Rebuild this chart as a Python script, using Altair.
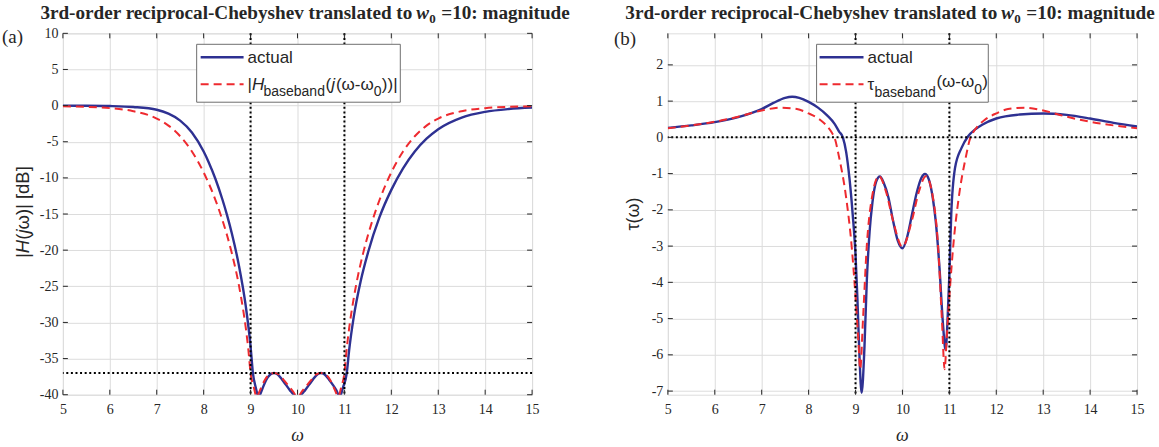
import altair as alt
import pandas as pd

W, H = 470, 362

# ---------------- magnitude response (dB) ----------------
w_mag_actual = [5.0, 5.5, 6.0, 6.5, 7.0, 7.25, 7.5, 7.75, 8.0, 8.1, 8.25, 8.4, 8.5, 8.6,
                8.75, 8.9, 9.0, 9.05, 9.11, 9.17, 9.25, 9.33, 9.42, 9.5, 9.58, 9.67,
                9.75, 9.84, 10.0, 10.16, 10.25, 10.33, 10.42, 10.5, 10.58, 10.67, 10.75,
                10.83, 10.9, 10.97, 11.05, 11.1, 11.2, 11.35, 11.5, 11.75, 12.0, 12.25,
                12.5, 12.75, 13.0, 13.5, 14.0, 14.5, 15.0]
mag_actual = [-0.01, -0.02, -0.06, -0.19, -0.57, -1.12, -2.07, -3.72, -6.35, -7.72, -10.12,
              -12.99, -15.18, -17.66, -22.07, -27.85, -33.3, -37.0, -39.0, -40.3, -39.2,
              -38.0, -37.2, -37.0, -37.2, -37.9, -38.6, -39.4, -40.3, -39.4, -38.6, -37.9,
              -37.2, -37.0, -37.2, -37.9, -38.6, -39.4, -40.3, -39.0, -37.0, -33.9, -29.2,
              -24.2, -20.4, -15.4, -11.66, -8.68, -6.35, -4.58, -3.26, -1.65, -0.86,
              -0.47, -0.27]

w_mag_base = [5.0, 5.5, 6.0, 6.5, 7.0, 7.25, 7.5, 7.75, 8.0, 8.25, 8.4, 8.5, 8.6, 8.75,
              8.8, 8.9, 8.95, 9.0, 9.07, 9.13, 9.2, 9.3, 9.4, 9.5, 9.6, 9.7, 9.8, 9.9,
              10.0, 10.1, 10.2, 10.3, 10.4, 10.5, 10.6, 10.7, 10.8, 10.87, 10.93, 11.0,
              11.05, 11.1, 11.2, 11.25, 11.4, 11.5, 11.6, 11.75, 12.0, 12.25, 12.5,
              12.75, 13.0, 13.5, 14.0, 14.5, 15.0]
mag_base = [-0.09, -0.17, -0.35, -0.77, -1.79, -2.77, -4.24, -6.35, -9.24, -13.03, -15.84,
            -17.97, -20.41, -24.8, -26.6, -30.87, -33.6, -37.0, -39.0, -40.3, -39.4,
            -38.0, -37.2, -37.0, -37.2, -37.9, -38.7, -39.5, -40.3, -39.5, -38.7, -37.9,
            -37.2, -37.0, -37.2, -38.0, -39.4, -40.3, -39.0, -37.0, -33.6, -30.87, -26.6,
            -24.8, -20.41, -17.97, -15.84, -13.03, -9.24, -6.35, -4.24, -2.77, -1.79,
            -0.77, -0.35, -0.17, -0.09]

# ---------------- group delay ----------------
w_tau_actual = [5.0, 5.5, 6.0, 6.5, 7.0, 7.25, 7.5, 7.65, 7.8, 8.0, 8.2, 8.4, 8.55, 8.65,
                8.73, 8.8, 8.87, 8.94, 9.0, 9.04, 9.08, 9.13, 9.19, 9.24, 9.3, 9.36, 9.44,
                9.52, 9.6, 9.7, 9.8, 9.9, 10.0, 10.1, 10.2, 10.3, 10.4, 10.48, 10.56,
                10.65, 10.71, 10.79, 10.86, 10.92, 10.96, 11.0, 11.04, 11.12, 11.26, 11.4,
                11.55, 11.7, 12.0, 12.5, 13.0, 13.5, 14.0, 14.5, 15.0]
tau_actual = [0.26, 0.33, 0.42, 0.56, 0.78, 0.95, 1.09, 1.12, 1.09, 0.98, 0.82, 0.60, 0.38,
              0.16, 0.0, -0.4, -1.12, -2.13, -3.24, -4.44, -5.9, -7.05, -5.8, -3.97, -2.6,
              -1.8, -1.22, -1.08, -1.25, -1.65, -2.3, -2.85, -3.06, -2.75, -2.15, -1.55,
              -1.13, -1.01, -1.15, -1.7, -2.32, -3.61, -5.08, -5.87, -5.08, -3.79, -2.13,
              -0.85, -0.29, 0.03, 0.22, 0.35, 0.52, 0.63, 0.66, 0.62, 0.52, 0.40, 0.30]

w_tau_base = [5.0, 5.5, 6.0, 6.5, 7.0, 7.4, 7.75, 8.0, 8.25, 8.4, 8.5, 8.55, 8.65, 8.8,
              8.92, 9.0, 9.06, 9.1, 9.16, 9.24, 9.35, 9.5, 9.65, 9.8, 10.0, 10.2, 10.35,
              10.5, 10.65, 10.76, 10.84, 10.9, 10.94, 11.0, 11.08, 11.2, 11.35, 11.45,
              11.5, 11.6, 11.75, 12.0, 12.25, 12.6, 13.0, 13.5, 14.0, 14.5, 15.0]
tau_base = [0.25, 0.33, 0.43, 0.57, 0.74, 0.82, 0.78, 0.66, 0.48, 0.30, 0.12, 0.0, -0.55,
            -1.66, -3.04, -4.4, -5.6, -6.4, -5.0, -3.0, -1.66, -1.07, -1.5, -2.3, -3.02,
            -2.3, -1.5, -1.07, -1.66, -3.0, -5.0, -6.4, -5.6, -4.4, -3.04, -1.66, -0.55,
            0.0, 0.12, 0.30, 0.48, 0.66, 0.78, 0.82, 0.74, 0.57, 0.43, 0.33, 0.25]

# ---------------- axes and reference lines ----------------
x_ticks = list(range(5, 16))
mag_ticks = list(range(-40, 11, 5))
tau_ticks = list(range(-7, 3))
band_edges = [9, 11]
mag_floor = [-37]
tau_zero = [0]

NAVY = "#2E3192"
RED = "#EE2A2F"
INK = "#262626"
GRID = "#DCDCDC"
SANS = "Liberation Sans"
SERIF = "Liberation Serif"

ONE = pd.DataFrame({"k": [0]})
HYPHEN = "replace(datum.label, '\u2212', '-')"
TITLE_SIZE = 19.2


def text(t, x, y, size=17, font=SANS, align="left", baseline="alphabetic",
         style="normal", weight="normal", angle=0, color=INK):
    return alt.Chart(ONE).mark_text(
        text=t, align=align, baseline=baseline, font=font, fontSize=size,
        fontStyle=style, fontWeight=weight, angle=angle, color=color,
    ).encode(x=alt.value(x), y=alt.value(y))


def hline(x1, x2, y, color, width, dash=None):
    kw = dict(color=color, strokeWidth=width)
    if dash:
        kw["strokeDash"] = dash
    return alt.Chart(ONE).mark_rule(**kw).encode(
        x=alt.value(x1), x2=alt.value(x2), y=alt.value(y))


def frame(x1, x2, y1, y2):
    # invisible box that fixes the outer extent of the figure
    return alt.Chart(ONE).mark_rect(fill="white", opacity=0).encode(
        x=alt.value(x1), x2=alt.value(x2), y=alt.value(y1), y2=alt.value(y2))


def title_pieces(wx):
    # "3rd-order reciprocal-Chebyshev translated to w_0 =10: magnitude"
    return [
        text("3rd-order reciprocal-Chebyshev translated to", wx - 4, -14, size=TITLE_SIZE,
             font=SERIF, align="right", weight="bold"),
        text("w", wx, -14, size=TITLE_SIZE, font=SERIF, style="italic", weight="bold"),
        text("0", wx + 13, -10, size=13, font=SERIF, weight="bold"),
        text("=10: magnitude", wx + 25, -14, size=TITLE_SIZE, font=SERIF, weight="bold"),
    ]


def panel(w_a, v_a, w_b, v_b, y_domain, y_ticks, h_ref, extras):
    xs = alt.Scale(domain=[5, 15], nice=False, zero=False)
    ys = alt.Scale(domain=y_domain, nice=False, zero=False)
    xax = alt.Axis(values=x_ticks, title=None, grid=True, gridColor=GRID, ticks=False,
                   domain=False, labelPadding=8, labelFont=SERIF, labelFontSize=14,
                   labelColor=INK, labelFlush=False, labelExpr=HYPHEN)
    yax = alt.Axis(values=y_ticks, title=None, grid=True, gridColor=GRID, ticks=False,
                   domain=False, labelPadding=5, labelFont=SERIF, labelFontSize=14,
                   labelColor=INK, labelFlush=False, labelExpr=HYPHEN)

    def X():
        return alt.X("w:Q", scale=xs, axis=xax)

    def Y():
        return alt.Y("v:Q", scale=ys, axis=yax)

    actual = alt.Chart(pd.DataFrame({"w": w_a, "v": v_a})).mark_line(
        color=NAVY, strokeWidth=2.4, clip=True, interpolate="monotone"
    ).encode(x=X(), y=Y())
    base = alt.Chart(pd.DataFrame({"w": w_b, "v": v_b})).mark_line(
        color=RED, strokeWidth=2.0, strokeDash=[8, 5], clip=True, interpolate="monotone"
    ).encode(x=X(), y=Y())

    vref = alt.Chart(pd.DataFrame({"w": band_edges})).mark_rule(
        color="black", strokeWidth=2, strokeDash=[2, 2.6]).encode(x=X())
    href = alt.Chart(pd.DataFrame({"v": h_ref})).mark_rule(
        color="black", strokeWidth=2, strokeDash=[2, 2.6]).encode(y=Y())

    xt = pd.DataFrame({"w": x_ticks})
    yt = pd.DataFrame({"v": y_ticks})
    ticks = [
        alt.Chart(xt).mark_rule(color=INK, strokeWidth=1).encode(
            x=X(), y=alt.value(H), y2=alt.value(H - 5)),
        alt.Chart(xt).mark_rule(color=INK, strokeWidth=1).encode(
            x=X(), y=alt.value(0), y2=alt.value(5)),
        alt.Chart(yt).mark_rule(color=INK, strokeWidth=1).encode(
            y=Y(), x=alt.value(0), x2=alt.value(5)),
        alt.Chart(yt).mark_rule(color=INK, strokeWidth=1).encode(
            y=Y(), x=alt.value(W), x2=alt.value(W - 5)),
    ]
    x_title = text("ω", W / 2, H + 46, size=18, font=SERIF, align="center", style="italic")
    return alt.layer(actual, base, vref, href, *ticks, x_title, *extras).properties(
        width=W, height=H)


# legend and labels, panel (a)
legend_a = [
    alt.Chart(ONE).mark_rect(fill="white", stroke="#6E6E6E", strokeWidth=1).encode(
        x=alt.value(134), x2=alt.value(338), y=alt.value(11), y2=alt.value(69)),
    hline(138, 181, 24, NAVY, 2.4),
    hline(138, 181, 51, RED, 2.0, [8, 5]),
    text("actual", 185, 30),
    text("|", 185, 57),
    text("H", 189.4, 57, style="italic"),
    text("baseband", 201, 63, size=14),
    text("(", 263, 57),
    text("j", 268.7, 57, style="italic"),
    text("(ω-ω", 273.5, 57),
    text("0", 311.5, 63, size=14),
    text("))|", 319.5, 57),
]
# rotated y title "|H(jω)| [dB]" assembled bottom to top
ytitle_a = [
    text("|", -40, 225, size=18.5, baseline="middle", angle=270),
    text("H", -40, 220.2, size=18.5, baseline="middle", angle=270, style="italic"),
    text("(", -40, 206.8, size=18.5, baseline="middle", angle=270),
    text("j", -40, 200.6, size=18.5, baseline="middle", angle=270, style="italic"),
    text("ω)| [dB]", -40, 196.5, size=18.5, baseline="middle", angle=270),
]
extras_a = [frame(-62, W, -32, H + 53)] + legend_a + title_pieces(354) + ytitle_a + [
    text("(a)", -61, 10, size=19, font=SERIF),
]

legend_b = [
    alt.Chart(ONE).mark_rect(fill="white", stroke="#6E6E6E", strokeWidth=1).encode(
        x=alt.value(149), x2=alt.value(321), y=alt.value(11), y2=alt.value(69)),
    hline(152, 196, 24, NAVY, 2.4),
    hline(152, 196, 51, RED, 2.0, [8, 5]),
    text("actual", 200, 30),
    text("τ", 200, 57),
    text("baseband", 207, 64, size=14),
    text("(ω-ω", 269, 54),
    text("0", 307, 61, size=14),
    text(")", 315, 54),
]
extras_b = [frame(0, W + 21, -32, H + 53)] + legend_b + title_pieces(334) + [
    text("(b)", -54, 12, size=19, font=SERIF),
    text("τ(ω)", -34, H / 2, size=18, align="center", baseline="middle", angle=270),
]

left = panel(w_mag_actual, mag_actual, w_mag_base, mag_base, [-40, 10], mag_ticks,
             mag_floor, extras_a)
right = panel(w_tau_actual, tau_actual, w_tau_base, tau_base, [-7.1, 2.87], tau_ticks,
              tau_zero, extras_b)

chart = alt.hconcat(left, right, spacing=136, bounds="flush").properties(
    padding=0,
).configure_view(stroke=INK, strokeWidth=1).configure(background="white")

chart.save("out.html", embed_options={"renderer": "svg", "actions": False})
